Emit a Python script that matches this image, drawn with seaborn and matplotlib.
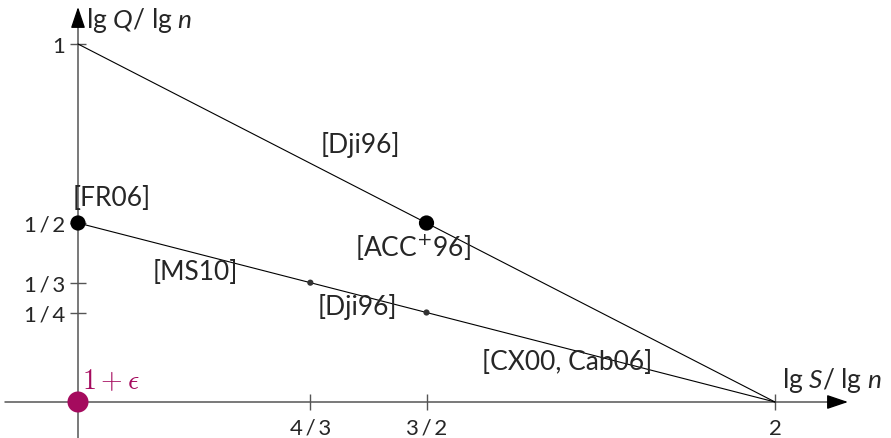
import matplotlib
matplotlib.use("Agg")
import matplotlib.pyplot as plt
import seaborn as sns
import pandas as pd

# ---- data ----
upper_S = [1.0, 2.0]
upper_Q = [1.0, 0.0]
lower_S = [1.0, 2.0]
lower_Q = [0.5, 0.0]
big_S = [1.0, 1.5]
big_Q = [0.5, 0.5]
small_S = [4/3, 1.5]
small_Q = [1/3, 0.25]
eps_S = [1.0]
eps_Q = [0.0]
xtick_vals = [4/3, 1.5, 2.0]
xtick_labels = ["4\u2009/\u20093", "3\u2009/\u20092", "2"]
ytick_vals = [1.0, 0.5, 1/3, 0.25]
ytick_labels = ["1", "1\u2009/\u20092", "1\u2009/\u20093", "1\u2009/\u20094"]
ref_labels = ["[Dji96]", "[FR06]", "[ACC$^{+}$96]", "[MS10]", "[Dji96]", "[CX00, Cab06]"]
ref_pos = [(1.4046, 0.7207), (1.0488, 0.5726), (1.4806, 0.433),
           (1.1679, 0.3659), (1.4003, 0.268), (1.7016, 0.1145)]

sns.set_style("white")
plt.rcParams["font.family"] = ["Lato", "DejaVu Sans"]
plt.rcParams["mathtext.fontset"] = "custom"
plt.rcParams["mathtext.rm"] = "Lato"
plt.rcParams["mathtext.it"] = "Lato:italic"

MAG = "#A50B5E"
AX = "#555555"

fig = plt.figure(figsize=(8.91, 4.39), dpi=100)
ax = fig.add_axes([0, 0, 1, 1])
ax.set_xlim(1 - 78 / 697, 1 + 813 / 697)
ax.set_ylim(-36 / 358, 403 / 358)

sns.lineplot(x=upper_S, y=upper_Q, ax=ax, color="black", lw=0.8)
sns.lineplot(x=lower_S, y=lower_Q, ax=ax, color="black", lw=0.8)
sns.scatterplot(x=big_S, y=big_Q, ax=ax, color="black", s=120, edgecolor="none", zorder=5)
sns.scatterplot(x=small_S, y=small_Q, ax=ax, color="#333333", s=20, edgecolor="none", zorder=5)
sns.scatterplot(x=eps_S, y=eps_Q, ax=ax, color=MAG, s=230, edgecolor="none", zorder=6)

# axes with arrows
for sp in ax.spines.values():
    sp.set_visible(False)
ax.spines["left"].set_position(("data", 1.0))
ax.spines["bottom"].set_position(("data", 0.0))

x0, x1 = 1 - 73 / 697, 1 + 770 / 697
y0, y1 = -37 / 358, 395 / 358
ax.plot([x0, x1 - 10 / 697], [0, 0], color=AX, lw=1.1, zorder=1)
ax.plot([1.0, 1.0], [y0, y1 - 10 / 358], color=AX, lw=1.1, zorder=1)
head = dict(arrowstyle="-|>,head_length=0.65,head_width=0.22", color="black", lw=1.0,
            mutation_scale=20, shrinkA=0, shrinkB=0)
ax.annotate("", xy=(x1, 0), xytext=(x1 - 20 / 697, 0), arrowprops=head, zorder=2)
ax.annotate("", xy=(1.0, y1), xytext=(1.0, y1 - 20 / 358), arrowprops=head, zorder=2)

ax.set_xticks(xtick_vals, xtick_labels)
ax.set_yticks(ytick_vals, ytick_labels)
ax.tick_params(axis="both", direction="inout", length=11, width=1.0, color=AX,
               labelsize=16, pad=4, bottom=True, left=True)
ax.tick_params(axis="x", pad=6)

for lab, (x, y) in zip(ref_labels, ref_pos):
    ax.text(x, y, lab, fontsize=19, ha="center", va="center",
            math_fontfamily="dejavusans")

ax.text(1.0115, 1.0698, r"lg $Q$/ lg $n$", fontsize=19, ha="left", va="center")
ax.text(2.0100, 0.0642, r"lg $S$/ lg $n$", fontsize=19, ha="left", va="center")
ax.text(1.0057, 0.0615, r"$1+\epsilon$", fontsize=20, ha="left", va="center",
        color=MAG, math_fontfamily="cm")

fig.savefig("out.png", dpi=100)
